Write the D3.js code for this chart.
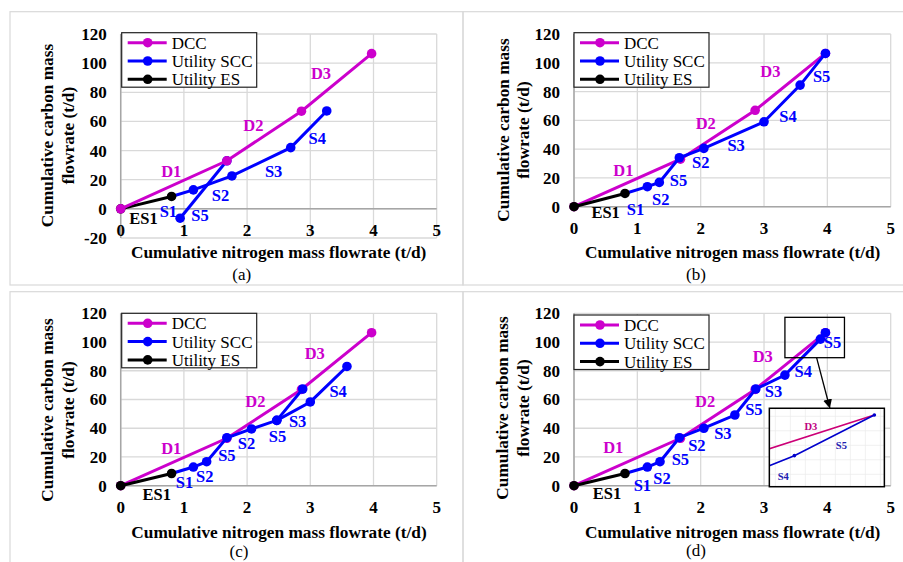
<!DOCTYPE html>
<html><head><meta charset="utf-8">
<script src="https://cdn.jsdelivr.net/npm/d3@7"></script>
<style>body{margin:0;background:#fff}svg{display:block}</style>
</head><body>
<svg id="c" width="903" height="562"></svg>
<script>
// ---------------- DATA ----------------
const xTicks = [0, 1, 2, 3, 4, 5];
const yTicksNeg = [-20, 0, 20, 40, 60, 80, 100, 120];
const yTicksPos = [0, 20, 40, 60, 80, 100, 120];
const legendNames = ["DCC", "Utility SCC", "Utility ES"];
const xTitle = "Cumulative nitrogen mass flowrate (t/d)";
const yTitle = ["Cumulative carbon mass", "flowrate (t/d)"];

const dcc = [[0, 0], [1.68, 33], [2.86, 67], [3.97, 106.5]];
const esA = [[0, 0], [0.805, 8.5]];
const esB = [[0, 0], [0.805, 9.2]];
const esC = [[0, 0], [0.805, 8.5]];
const esD = [[0, 0], [0.805, 8.5]];

const sccA = [
  [[0.805, 8.5], [1.15, 13], [1.76, 22.6], [2.69, 42], [3.26, 67.2]],
  [[0.94, -6.4], [1.68, 33]]
];
const sccB = [
  [[0.805, 9.2], [1.158, 13.9], [1.347, 16.9], [1.663, 34], [2.05, 40.5], [3.0, 59], [3.57, 84.5], [3.97, 106.5]]
];
const sccC = [
  [[0.805, 8.5], [1.15, 13], [1.36, 16.7], [1.68, 33.4], [2.07, 39.5], [2.47, 45.5], [2.88, 67.3]],
  [[2.47, 45.5], [3.0, 58.3], [3.58, 83]]
];
const sccD = [
  [[0.805, 8.5], [1.158, 13], [1.358, 16.7], [1.663, 33.4], [2.05, 40], [2.54, 49.2], [2.87, 67.3], [3.33, 77], [3.89, 102], [3.97, 106.5]]
];

// labels: [text, x, y, series]
const labelsA = [["D1",0.80,25.6,"d"],["D2",2.1,57.6,"d"],["D3",3.17,93,"d"],["ES1",0.36,-6.4,"e"],
  ["S1",0.754,-1.8,"s"],["S5",1.255,-4.1,"s"],["S2",1.58,9.6,"s"],["S3",2.42,25.6,"s"],["S4",3.11,48.5,"s"]];
const labelsB = [["D1",0.78,25.5,"d"],["D2",2.08,58,"d"],["D3",3.1,94,"d"],["ES1",0.5,-4,"e"],
  ["S1",0.97,-1.6,"s"],["S2",1.37,5,"s"],["S5",1.65,18.5,"s"],["S2",2.0,31,"s"],["S3",2.56,43,"s"],["S4",3.38,63,"s"],["S5",3.91,90.8,"s"]];
const labelsC = [["D1",0.80,26,"d"],["D2",2.13,58.5,"d"],["D3",3.07,92.2,"d"],["ES1",0.57,-6,"e"],
  ["S1",1.01,2.3,"s"],["S2",1.33,6.3,"s"],["S5",1.68,21.4,"s"],["S2",1.99,29.5,"s"],["S5",2.48,34.1,"s"],["S3",2.80,44.6,"s"],["S4",3.44,65.9,"s"]];
const labelsD = [["D1",0.62,26.5,"d"],["D2",2.07,58.5,"d"],["D3",2.98,89.8,"d"],["ES1",0.52,-5.3,"e"],
  ["S1",1.08,0.5,"s"],["S2",1.39,5,"s"],["S5",1.68,18.6,"s"],["S2",1.94,28.3,"s"],["S3",2.35,36.4,"s"],["S5",2.84,53.4,"s"],["S3",3.15,66,"s"],["S4",3.62,80,"s"],["S5",4.08,100,"s"]];

// inset (panel d): zoom window box & inset box in main data coords, inset data domain
const zoomBox = [[3.33, 117.2], [4.27, 89.1]];
const insetBox = [[3.084, 53.9], [4.9, -0.7]];
const insetXDomain = [3.865, 3.98];
const insetYDomain = [98.57, 107.24];
const insetDots = [[3.89, 102], [3.97, 106.5]];
const insetLabels = [["D3", 3.9066, 105.2, "d"], ["S5", 3.937, 103.18, "s"], ["S4", 3.879, 99.67, "s"]];

// ---------------- STYLE ----------------
const COL = { d: "#cc00cc", s: "#0000ff", e: "#000000" };
const FONT = "Liberation Serif, Times New Roman, serif";
const svg = d3.select("#c");

const frames = [[10, 11.7, 453, 273.3], [463, 11.7, 450, 273.3], [10, 291.7, 453, 280], [463, 291.7, 450, 280]];
svg.selectAll("rect.frame").data(frames).join("rect").attr("class", "frame")
  .attr("x", d => d[0]).attr("y", d => d[1]).attr("width", d => d[2]).attr("height", d => d[3])
  .attr("fill", "none").attr("stroke", "#d9d9d9").attr("stroke-width", 1.2);

const panels = [
  { x0: 120.7, x1: 436.7, yTop: 34, yBot: 238, yDom: [-20, 120], yTicks: yTicksNeg, es: esA, scc: sccA, labels: labelsA, dccOnTop: true,
    yt: [46.7, 68.3, 135.5], leg: [121.7, 32.7], cap: "(a)", capPos: [241.7, 280], xtPos: [278.7, 258.3] },
  { x0: 574, x1: 890.7, yTop: 34, yBot: 206.7, yDom: [0, 120], yTicks: yTicksPos, es: esB, scc: sccB, labels: labelsB,
    yt: [503.3, 523, 130], leg: [574, 32.7], cap: "(b)", capPos: [696, 280], xtPos: [732.7, 258.3] },
  { x0: 120.7, x1: 436.7, yTop: 313.3, yBot: 485.7, yDom: [0, 120], yTicks: yTicksPos, es: esC, scc: sccC, labels: labelsC,
    yt: [46.7, 68.3, 410], leg: [121.7, 313.3], cap: "(c)", capPos: [239, 556.7], xtPos: [279, 538.3] },
  { x0: 574, x1: 890.7, yTop: 313.3, yBot: 485.7, yDom: [0, 120], yTicks: yTicksPos, es: esD, scc: sccD, labels: labelsD,
    yt: [502, 523, 408], leg: [574, 315], cap: "(d)", capPos: [696, 556], xtPos: [732.7, 537.7], inset: true }
];

panels.forEach((p, pi) => {
  const g = svg.append("g");
  const x = d3.scaleLinear().domain([0, 5]).range([p.x0, p.x1]);
  const y = d3.scaleLinear().domain(p.yDom).range([p.yBot, p.yTop]);

  g.append("g").selectAll("line").data(p.yTicks).join("line")
    .attr("x1", p.x0).attr("x2", p.x1).attr("y1", d => y(d)).attr("y2", d => y(d))
    .attr("stroke", "#d9d9d9").attr("stroke-width", 1.3);
  g.append("g").selectAll("line").data(xTicks).join("line")
    .attr("x1", d => x(d)).attr("x2", d => x(d)).attr("y1", p.yTop).attr("y2", p.yBot)
    .attr("stroke", "#d9d9d9").attr("stroke-width", 1.3);
  g.append("line").attr("x1", p.x0).attr("x2", p.x1).attr("y1", y(0)).attr("y2", y(0))
    .attr("stroke", "#a6a6a6").attr("stroke-width", 1.5);
  g.append("line").attr("x1", x(0)).attr("x2", x(0)).attr("y1", p.yTop).attr("y2", p.yBot)
    .attr("stroke", "#a6a6a6").attr("stroke-width", 1.5);

  g.append("g").selectAll("text").data(p.yTicks).join("text")
    .attr("x", p.x0 - 14).attr("y", d => y(d)).attr("dy", "0.35em").attr("text-anchor", "end")
    .attr("font-family", FONT).attr("font-weight", "bold").attr("font-size", 17).text(d => d);
  g.append("g").selectAll("text").data(xTicks).join("text")
    .attr("x", d => x(d)).attr("y", y(0) + 21).attr("dy", "0.35em").attr("text-anchor", "middle")
    .attr("font-family", FONT).attr("font-weight", "bold").attr("font-size", 17).text(d => d);

  g.append("text").attr("x", p.xtPos[0]).attr("y", p.xtPos[1]).attr("text-anchor", "middle")
    .attr("font-family", FONT).attr("font-weight", "bold").attr("font-size", 17.3).text(xTitle);
  yTitle.forEach((t, i) => {
    g.append("text").attr("transform", `translate(${p.yt[i]},${p.yt[2]}) rotate(-90)`)
      .attr("text-anchor", "middle").attr("dy", "0.35em")
      .attr("font-family", FONT).attr("font-weight", "bold").attr("font-size", 17.3).text(t);
  });
  g.append("text").attr("x", p.capPos[0]).attr("y", p.capPos[1]).attr("text-anchor", "middle")
    .attr("font-family", FONT).attr("font-size", 17).text(p.cap);

  const line = d3.line().x(d => x(d[0])).y(d => y(d[1]));
  const drawDcc = () => {
    g.append("path").datum(dcc).attr("d", line).attr("fill", "none").attr("stroke", COL.d).attr("stroke-width", 3);
    g.append("g").selectAll("circle").data(dcc).join("circle")
      .attr("cx", d => x(d[0])).attr("cy", d => y(d[1])).attr("r", 4.8).attr("fill", COL.d);
  };
  const drawScc = () => {
    p.scc.forEach((seg, si) => {
      g.append("path").datum(seg).attr("d", line).attr("fill", "none").attr("stroke", COL.s).attr("stroke-width", 3);
      g.append("g").selectAll("circle").data(si === 0 ? seg.slice(1) : seg).join("circle")
        .attr("cx", d => x(d[0])).attr("cy", d => y(d[1])).attr("r", 4.8).attr("fill", COL.s);
    });
  };
  const drawEs = () => {
    g.append("path").datum(p.es).attr("d", line).attr("fill", "none").attr("stroke", COL.e).attr("stroke-width", 3);
    g.append("g").selectAll("circle").data(p.es).join("circle")
      .attr("cx", d => x(d[0])).attr("cy", d => y(d[1])).attr("r", 4.8).attr("fill", COL.e);
  };
  if (p.dccOnTop) { drawScc(); drawEs(); drawDcc(); } else { drawDcc(); drawScc(); drawEs(); }

  g.append("g").selectAll("text").data(p.labels).join("text")
    .attr("x", d => x(d[1])).attr("y", d => y(d[2])).attr("dy", "0.35em").attr("text-anchor", "middle")
    .attr("font-family", FONT).attr("font-weight", "bold").attr("font-size", 16.5)
    .attr("fill", d => COL[d[3]]).text(d => d[0]);

  const L = g.append("g").attr("transform", `translate(${p.leg[0]},${p.leg[1]})`);
  L.append("rect").attr("width", 135).attr("height", 54.5).attr("fill", "#fff").attr("stroke", "#222").attr("stroke-width", 1.2);
  legendNames.forEach((n, i) => {
    const c = [COL.d, COL.s, COL.e][i];
    const yy = 10 + i * 18.3;
    L.append("line").attr("x1", 6).attr("x2", 45).attr("y1", yy).attr("y2", yy).attr("stroke", c).attr("stroke-width", 3);
    L.append("circle").attr("cx", 26).attr("cy", yy).attr("r", 4.8).attr("fill", c);
    L.append("text").attr("x", 50).attr("y", yy).attr("dy", "0.35em").attr("font-family", FONT)
      .attr("font-size", 17).text(n);
  });

  if (p.inset) {
    g.append("rect").attr("x", x(zoomBox[0][0])).attr("y", y(zoomBox[0][1]))
      .attr("width", x(zoomBox[1][0]) - x(zoomBox[0][0])).attr("height", y(zoomBox[1][1]) - y(zoomBox[0][1]))
      .attr("fill", "none").attr("stroke", "#000").attr("stroke-width", 1.3);
    const bx0 = x(insetBox[0][0]), by0 = y(insetBox[0][1]), bx1 = x(insetBox[1][0]), by1 = y(insetBox[1][1]);
    const defs = svg.append("defs");
    defs.append("marker").attr("id", "arr").attr("viewBox", "0 0 10 10").attr("refX", 10).attr("refY", 5)
      .attr("markerWidth", 9).attr("markerHeight", 9).attr("markerUnits", "userSpaceOnUse").attr("orient", "auto")
      .append("path").attr("d", "M0,0L10,5L0,10Z").attr("fill", "#000");
    g.append("line").attr("x1", x(3.83)).attr("y1", y(zoomBox[1][1])).attr("x2", x(4.04)).attr("y2", by0)
      .attr("stroke", "#000").attr("stroke-width", 1.3).attr("marker-end", "url(#arr)");
    defs.append("clipPath").attr("id", "ic").append("rect").attr("x", bx0).attr("y", by0)
      .attr("width", bx1 - bx0).attr("height", by1 - by0);
    g.append("rect").attr("x", bx0).attr("y", by0).attr("width", bx1 - bx0).attr("height", by1 - by0).attr("fill", "#fff");
    const ix = d3.scaleLinear().domain(insetXDomain).range([bx0, bx1]);
    const iy = d3.scaleLinear().domain(insetYDomain).range([by1, by0]);
    const ig = g.append("g").attr("clip-path", "url(#ic)");
    ig.append("g").selectAll("line").data(d3.range(bx0 + 6, bx1, 15)).join("line")
      .attr("x1", d => d).attr("x2", d => d).attr("y1", by0).attr("y2", by1).attr("stroke", "#ececec").attr("stroke-width", 0.8);
    ig.append("g").selectAll("line").data(d3.range(by0 + 8, by1, 14.5)).join("line")
      .attr("y1", d => d).attr("y2", d => d).attr("x1", bx0).attr("x2", bx1).attr("stroke", "#ececec").attr("stroke-width", 0.8);
    const il = d3.line().x(d => ix(d[0])).y(d => iy(d[1]));
    ig.append("path").datum(dcc).attr("d", il).attr("fill", "none").attr("stroke", "#cc0077").attr("stroke-width", 1.6);
    ig.append("path").datum(sccD[0]).attr("d", il).attr("fill", "none").attr("stroke", "#0000cc").attr("stroke-width", 1.6);
    ig.append("g").selectAll("circle").data(insetDots).join("circle")
      .attr("cx", d => ix(d[0])).attr("cy", d => iy(d[1])).attr("r", 1.8).attr("fill", "#0000cc");
    ig.append("g").selectAll("text").data(insetLabels).join("text")
      .attr("x", d => ix(d[1])).attr("y", d => iy(d[2])).attr("dy", "0.35em").attr("text-anchor", "middle")
      .attr("font-family", FONT).attr("font-weight", "bold").attr("font-size", 10.5)
      .attr("fill", d => d[3] === "d" ? "#c0007f" : "#2020b0").text(d => d[0]);
    g.append("rect").attr("x", bx0).attr("y", by0).attr("width", bx1 - bx0).attr("height", by1 - by0)
      .attr("fill", "none").attr("stroke", "#000").attr("stroke-width", 1.5);
  }
});
</script>
</body></html>
